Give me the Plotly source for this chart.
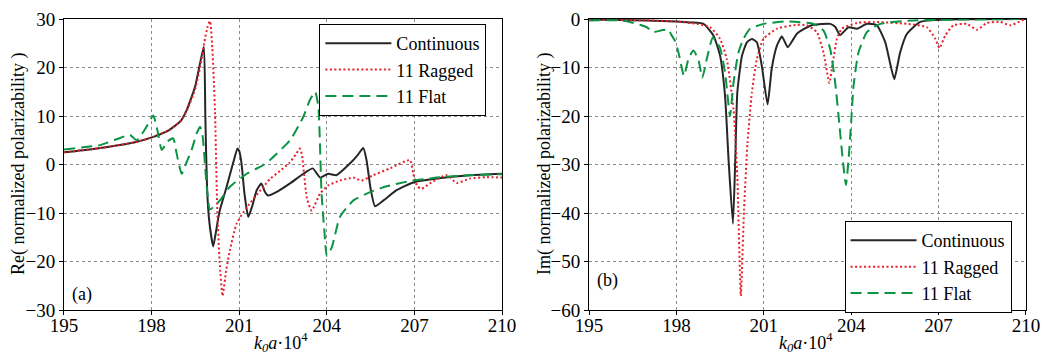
import plotly.graph_objects as go

# ---- Panel (a): Re(normalized polarizability) ----
re_cont_x = [195.0, 196.0, 196.9, 197.5, 198.06, 198.6, 199.0, 199.2, 199.49, 199.66, 199.79,
             199.84, 199.9, 199.98, 200.11, 200.2, 200.33, 200.57, 200.8, 200.94, 201.0, 201.08,
             201.18, 201.31, 201.45, 201.6, 201.76, 201.87, 201.99, 202.27, 202.74, 203.2, 203.52,
             203.77, 204.05, 204.33, 204.79, 205.05, 205.25, 205.36, 205.5, 205.65, 205.94, 206.39,
             206.96, 207.76, 208.9, 210.0]
re_cont_y = [2.5, 3.2, 4.0, 4.7, 5.7, 7.1, 9.0, 11.2, 16.1, 20.9, 24.3,
             10.0, -5.0, -12.0, -16.9, -14.0, -9.6, -4.6, 0.5, 3.3, 2.8, 0.2,
             -6.0, -10.8, -8.5, -5.3, -3.9, -5.5, -6.4, -5.7, -3.9, -1.9, -0.8,
             -2.7, -1.9, -2.2, 0.2, 1.9, 3.4, 0.9, -5.0, -8.6, -7.4, -5.3,
             -3.7, -2.9, -2.2, -1.9]

re_rag_x = [195.0, 196.0, 196.9, 197.5, 198.06, 198.6, 199.0, 199.2, 199.49, 199.66, 199.8,
            199.92, 200.0, 200.08, 200.17, 200.25, 200.33, 200.43, 200.55, 200.68, 200.91, 201.26,
            201.83, 202.05, 202.4, 202.73, 202.95, 203.08, 203.15, 203.22, 203.32, 203.48, 203.77,
            204.05, 204.45, 204.91, 205.19, 205.59, 206.16, 206.85, 206.96, 207.1, 207.25, 207.53,
            208.1, 208.45, 208.9, 209.47, 210.0]
re_rag_y = [2.5, 3.2, 4.0, 4.7, 5.7, 7.1, 9.0, 11.0, 15.5, 20.0, 25.0,
            28.5, 29.6, 24.0, 11.2, -9.5, -20.0, -27.1, -22.0, -17.7, -12.2, -8.8,
            -4.6, -3.0, -1.3, 0.4, 2.2, 3.3, 2.0, -2.0, -7.0, -9.5, -6.0,
            -4.3, -3.3, -2.7, -3.3, -2.2, -0.8, 0.9, -1.9, -4.5, -5.0, -3.9,
            -2.2, -3.8, -2.9, -2.6, -2.7]

re_flat_x = [195.0, 196.23, 196.8, 197.26, 197.49, 197.8, 198.06, 198.2, 198.35, 198.55, 198.74,
             198.85, 199.03, 199.2, 199.37, 199.55, 199.66, 199.75, 199.86, 199.93, 200.0, 200.34,
             200.68, 201.26, 201.83, 202.05, 202.74, 203.2, 203.42, 203.6, 203.71, 203.82, 203.92,
             204.0, 204.17, 204.45, 204.91, 205.48, 206.05, 206.85, 207.76, 208.9, 210.0]
re_flat_y = [3.1, 4.0, 5.2, 6.1, 5.0, 7.5, 10.1, 7.0, 3.0, 4.8, 5.4,
             2.5, -1.9, 0.5, 3.0, 6.5, 7.8, 5.7, -2.6, -7.0, -9.3, -7.4,
             -4.6, -1.9, -0.1, 0.9, 5.0, 9.9, 13.3, 15.0, 11.9, -6.0, -14.0,
             -18.8, -17.1, -10.8, -7.4, -5.7, -4.5, -3.4, -2.7, -2.2, -2.0]

# ---- Panel (b): Im(normalized polarizability) ----
im_cont_x = [195.0, 196.0, 197.0, 198.0, 198.5, 198.93, 199.27, 199.5, 199.67, 199.79, 199.94,
             200.02, 200.09, 200.25, 200.42, 200.59, 200.76, 200.93, 201.13, 201.27, 201.45, 201.62,
             201.82, 202.02, 202.13, 202.4, 202.7, 203.28, 203.45, 203.62, 203.91, 204.2, 204.54,
             204.88, 205.17, 205.35, 205.48, 205.68, 205.91, 206.37, 207.29, 210.0]
im_cont_y = [-0.1, -0.2, -0.3, -0.5, -0.7, -1.0, -3.4, -7.6, -15.9, -29.0, -42.2,
             -29.0, -15.2, -7.6, -4.8, -4.1, -4.8, -9.6, -17.6, -10.3, -5.5, -3.6,
             -5.8, -4.1, -3.1, -2.0, -1.2, -1.0, -1.6, -3.3, -1.7, -2.0, -1.0,
             -1.3, -4.8, -9.5, -12.4, -6.9, -3.1, -0.6, -0.1, 0.0]

im_rag_x = [195.0, 197.0, 198.0, 198.7, 199.16, 199.5, 199.73, 199.96, 200.09, 200.21, 200.32,
            200.44, 200.59, 200.76, 200.99, 201.45, 202.13, 202.48, 202.82, 203.05, 203.25, 203.37,
            203.51, 203.68, 204.2, 204.77, 205.91, 206.6, 206.89, 207.03, 207.23, 207.51, 207.97,
            208.32, 208.66, 209.12, 209.46, 209.92]
im_rag_y = [-0.1, -0.3, -0.5, -1.0, -1.7, -4.1, -8.3, -18.6, -32.5, -57.1, -39.4,
            -25.6, -15.2, -8.3, -4.1, -2.0, -1.2, -1.3, -2.7, -6.9, -13.2, -8.9,
            -4.1, -2.0, -0.8, -0.6, -1.0, -1.7, -4.1, -6.0, -3.4, -1.3, -1.0,
            -2.2, -0.8, -0.6, -1.3, -0.1]

im_flat_x = [195.0, 196.06, 196.4, 196.98, 197.21, 197.5, 197.72, 197.84, 197.95, 198.07, 198.26,
             198.41, 198.58, 198.75, 198.89, 199.04, 199.25, 199.5, 199.67, 199.84, 199.96, 200.13,
             200.3, 200.53, 200.99, 201.79, 202.7, 203.05, 203.28, 203.45, 203.6, 203.71, 203.82,
             203.91, 203.99, 204.08, 204.25, 204.54, 205.0, 206.14, 210.0]
im_flat_y = [-0.3, -0.3, -0.6, -1.7, -2.7, -2.3, -2.2, -3.4, -4.5, -6.9, -11.7,
             -8.3, -6.5, -8.3, -12.1, -8.3, -3.8, -6.0, -11.0, -20.0, -13.1, -6.9,
             -4.1, -2.0, -1.0, -0.5, -1.0, -2.4, -6.2, -13.1, -22.1, -29.0, -34.2,
             -29.0, -22.1, -13.8, -6.9, -2.7, -1.0, -0.3, 0.0]

names = ["Continuous", "11 Ragged", "11 Flat"]
colors = ["#262626", "#e8202c", "#0b9444"]
dashes = ["solid", "2px,2.5px", "11px,6px"]
x_ticks = [195, 198, 201, 204, 207, 210]

FONT = "Liberation Serif, Times New Roman, Times, DejaVu Serif, serif"
W, H = 1042, 356

fig = go.Figure()
panels = [
    ([re_cont_x, re_rag_x, re_flat_x], [re_cont_y, re_rag_y, re_flat_y], "x", "y", "legend"),
    ([im_cont_x, im_rag_x, im_flat_x], [im_cont_y, im_rag_y, im_flat_y], "x2", "y2", "legend2"),
]
for xs, ys, xa, ya, lg in panels:
    for i in range(3):
        fig.add_trace(go.Scatter(
            x=xs[i], y=ys[i], mode="lines", name=names[i],
            line=dict(color=colors[i], width=2, dash=dashes[i], shape="spline", smoothing=0.5),
            xaxis=xa, yaxis=ya, legend=lg,
        ))

axis_common = dict(
    showline=True, linecolor="black", linewidth=1, mirror=True,
    showgrid=True, gridcolor="#8a8a8a", gridwidth=1, griddash="dot",
    zeroline=False, ticks="outside", ticklen=4, tickcolor="black", tickwidth=1,
    automargin=False,
    tickfont=dict(family=FONT, size=19, color="black"),
)


def px_ann(text, x, y, angle=0):
    return dict(text=text, x=x / W, y=1 - y / H, xref="paper", yref="paper",
                xanchor="center", yanchor="middle",
                showarrow=False, textangle=angle,
                font=dict(family=FONT, size=18, color="black"))


fig.update_layout(
    template="none",
    width=W, height=H,
    margin=dict(l=0, r=0, t=0, b=0, pad=0, autoexpand=False),
    paper_bgcolor="white", plot_bgcolor="white",
    font=dict(family=FONT, color="black"),
    xaxis=dict(domain=[0.0614, 0.4818], range=[195, 210], tickvals=x_ticks,
               anchor="y", ticklabelstandoff=-6, **axis_common),
    yaxis=dict(domain=[0.1292, 0.9466], range=[-30, 30], dtick=10,
               anchor="x", **axis_common),
    xaxis2=dict(domain=[0.5653, 0.9846], range=[195, 210], tickvals=x_ticks,
                anchor="y2", ticklabelstandoff=-6, **axis_common),
    yaxis2=dict(domain=[0.1292, 0.9466], range=[-60, 0], dtick=10,
                anchor="x2", **axis_common),
    showlegend=True,
    legend=dict(x=0.3065, y=0.9326, xanchor="left", yanchor="top",
                bgcolor="white", bordercolor="black", borderwidth=1,
                font=dict(family=FONT, size=18, color="black"), itemwidth=66,
                tracegroupgap=0),
    legend2=dict(x=0.8105, y=0.379, xanchor="left", yanchor="top",
                 bgcolor="white", bordercolor="black", borderwidth=1,
                 font=dict(family=FONT, size=18, color="black"), itemwidth=66,
                 tracegroupgap=0),
    annotations=[
        dict(text="(a)", x=195.2, y=-26.9, xref="x", yref="y", xanchor="left", yanchor="middle",
             showarrow=False, font=dict(family=FONT, size=18, color="black")),
        dict(text="(b)", x=195.2, y=-53.9, xref="x2", yref="y2", xanchor="left", yanchor="middle",
             showarrow=False, font=dict(family=FONT, size=18, color="black")),
        px_ann("Re( normalized polarizability )", 18, 164, -90),
        px_ann("Im( normalized polarizability )", 544, 164, -90),
        px_ann("<i>k<sub>0</sub>a</i>·10<sup>4</sup>", 281, 342),
        px_ann("<i>k<sub>0</sub>a</i>·10<sup>4</sup>", 806, 342),
    ],
)

fig.write_html("out.html", config={"displayModeBar": False},
               post_script="document.body.style.margin='0px';")
